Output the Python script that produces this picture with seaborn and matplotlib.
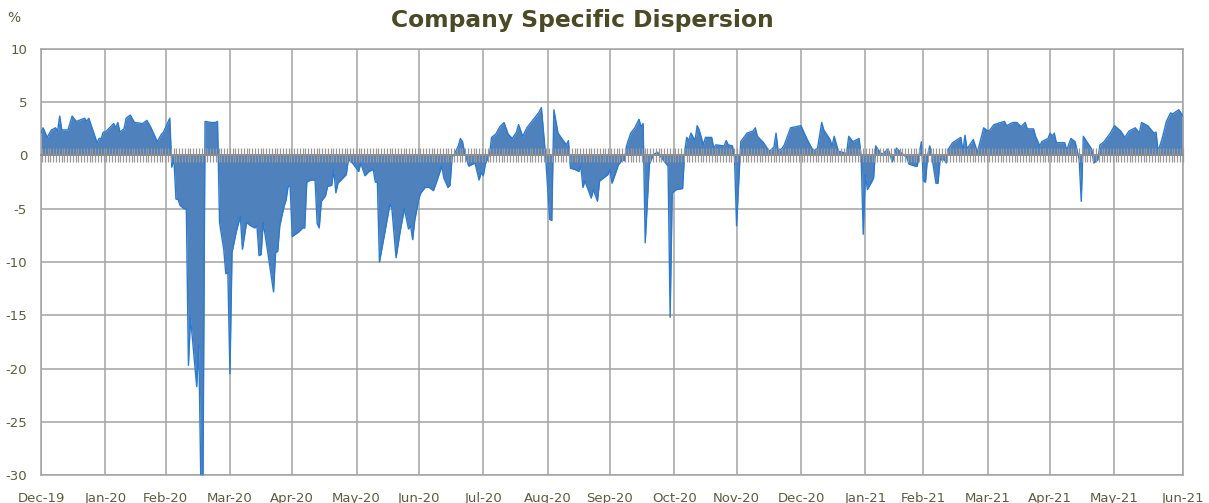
import matplotlib
matplotlib.use("Agg")
import matplotlib.pyplot as plt
import matplotlib.ticker as mticker
import seaborn as sns
import pandas as pd

# ---------------- data ----------------
dates = [
    "2019-12-31", "2020-01-01", "2020-01-03", "2020-01-05", "2020-01-07", "2020-01-08", "2020-01-09",
    "2020-01-10", "2020-01-13", "2020-01-15", "2020-01-17", "2020-01-21", "2020-01-22", "2020-01-23",
    "2020-01-27", "2020-01-28", "2020-01-29", "2020-01-30", "2020-01-31", "2020-02-04", "2020-02-05",
    "2020-02-06", "2020-02-07", "2020-02-09", "2020-02-10", "2020-02-12", "2020-02-14", "2020-02-18",
    "2020-02-20", "2020-02-22", "2020-02-25", "2020-02-27", "2020-02-28", "2020-03-02", "2020-03-03",
    "2020-03-04", "2020-03-05", "2020-03-06", "2020-03-07", "2020-03-09", "2020-03-10", "2020-03-11",
    "2020-03-12", "2020-03-15", "2020-03-16", "2020-03-17", "2020-03-18", "2020-03-19", "2020-03-22",
    "2020-03-24", "2020-03-25", "2020-03-26", "2020-03-28", "2020-03-29", "2020-03-30", "2020-03-31",
    "2020-04-01", "2020-04-03", "2020-04-05", "2020-04-06", "2020-04-08", "2020-04-10", "2020-04-12",
    "2020-04-13", "2020-04-14", "2020-04-15", "2020-04-16", "2020-04-18", "2020-04-21", "2020-04-22",
    "2020-04-23", "2020-04-24", "2020-04-26", "2020-04-27", "2020-04-28", "2020-04-29", "2020-04-30",
    "2020-05-03", "2020-05-05", "2020-05-06", "2020-05-07", "2020-05-09", "2020-05-11", "2020-05-12",
    "2020-05-13", "2020-05-14", "2020-05-16", "2020-05-17", "2020-05-19", "2020-05-20", "2020-05-21",
    "2020-05-22", "2020-05-24", "2020-05-26", "2020-05-27", "2020-05-29", "2020-06-01", "2020-06-02",
    "2020-06-04", "2020-06-06", "2020-06-08", "2020-06-09", "2020-06-10", "2020-06-11", "2020-06-14",
    "2020-06-16", "2020-06-17", "2020-06-19", "2020-06-21", "2020-06-23", "2020-06-25", "2020-06-26",
    "2020-06-27", "2020-06-28", "2020-06-30", "2020-07-01", "2020-07-03", "2020-07-05", "2020-07-07",
    "2020-07-09", "2020-07-11", "2020-07-12", "2020-07-14", "2020-07-15", "2020-07-16", "2020-07-17",
    "2020-07-19", "2020-07-20", "2020-07-21", "2020-07-22", "2020-07-24", "2020-07-27", "2020-07-29",
    "2020-07-30", "2020-07-31", "2020-08-01", "2020-08-03", "2020-08-04", "2020-08-06", "2020-08-08",
    "2020-08-10", "2020-08-12", "2020-08-14", "2020-08-16", "2020-08-17", "2020-08-19", "2020-08-21",
    "2020-08-27", "2020-08-28", "2020-08-30", "2020-09-01", "2020-09-02", "2020-09-03", "2020-09-05",
    "2020-09-09", "2020-09-10", "2020-09-11", "2020-09-13", "2020-09-15", "2020-09-16", "2020-09-17",
    "2020-09-18", "2020-09-21", "2020-09-22", "2020-09-24", "2020-09-25", "2020-09-29", "2020-09-30",
    "2020-10-01", "2020-10-03", "2020-10-04", "2020-10-06", "2020-10-07", "2020-10-08", "2020-10-10",
    "2020-10-12", "2020-10-14", "2020-10-15", "2020-10-16", "2020-10-17", "2020-10-19", "2020-10-21",
    "2020-10-23", "2020-10-24", "2020-10-26", "2020-10-28", "2020-10-29", "2020-10-30", "2020-11-01",
    "2020-11-04", "2020-11-05", "2020-11-06", "2020-11-07", "2020-11-08", "2020-11-10", "2020-11-11",
    "2020-11-12", "2020-11-14", "2020-11-15", "2020-11-18", "2020-11-19", "2020-11-20", "2020-11-24",
    "2020-11-25", "2020-11-26", "2020-11-28", "2020-11-29", "2020-11-30", "2020-12-02", "2020-12-05",
    "2020-12-08", "2020-12-09", "2020-12-10", "2020-12-13", "2020-12-15", "2020-12-16", "2020-12-18",
    "2020-12-19", "2020-12-20", "2020-12-22", "2020-12-23", "2020-12-26", "2020-12-31", "2021-01-03",
    "2021-01-06", "2021-01-08", "2021-01-10", "2021-01-11", "2021-01-14", "2021-01-15", "2021-01-16",
    "2021-01-18", "2021-01-22", "2021-01-23", "2021-01-25", "2021-01-28", "2021-01-29", "2021-01-30",
    "2021-01-31", "2021-02-01", "2021-02-03", "2021-02-04", "2021-02-05", "2021-02-06", "2021-02-08",
    "2021-02-11", "2021-02-13", "2021-02-15", "2021-02-17", "2021-02-20", "2021-02-21", "2021-02-24",
    "2021-02-25", "2021-02-27", "2021-02-28", "2021-03-01", "2021-03-02", "2021-03-03", "2021-03-04",
    "2021-03-06", "2021-03-07", "2021-03-08", "2021-03-10", "2021-03-11", "2021-03-12", "2021-03-14",
    "2021-03-18", "2021-03-19", "2021-03-20", "2021-03-21", "2021-03-24", "2021-03-26", "2021-03-29",
    "2021-03-31", "2021-04-01", "2021-04-03", "2021-04-08", "2021-04-09", "2021-04-12", "2021-04-14",
    "2021-04-16", "2021-04-18", "2021-04-19", "2021-04-22", "2021-04-23", "2021-04-25", "2021-04-26",
    "2021-04-29", "2021-04-30", "2021-05-01", "2021-05-02", "2021-05-03", "2021-05-07", "2021-05-08",
    "2021-05-10", "2021-05-12", "2021-05-13", "2021-05-14", "2021-05-15", "2021-05-16", "2021-05-20",
    "2021-05-21", "2021-05-23", "2021-05-24", "2021-05-26", "2021-05-29", "2021-05-31", "2021-06-03",
    "2021-06-05", "2021-06-07", "2021-06-10", "2021-06-12", "2021-06-13", "2021-06-16", "2021-06-19",
    "2021-06-20", "2021-06-21", "2021-06-23", "2021-06-25", "2021-06-27", "2021-06-28", "2021-07-01",
    "2021-07-03",
]

dispersion = [
    2.1, 2.6, 1.7, 2.4, 2.6, 2.3, 3.7,
    2.4, 2.4, 3.7, 3.2, 3.5, 3.2, 3.5,
    1.2, 1.6, 1.6, 2.2, 2.2, 3.0, 2.6,
    3.1, 2.2, 2.5, 3.5, 3.8, 3.1, 3.0,
    3.3, 2.6, 1.3, 2.0, 2.2, 3.5, -1.1,
    -0.3, -4.1, -4.1, -4.7, -5.0, -5.0, -19.7,
    -15.2, -21.7, -17.8, -31.0, -31.0, 3.2, 3.1,
    3.1, 3.2, -6.3, -8.8, -11.1, -11.0, -20.5,
    -9.1, -7.2, -5.7, -8.8, -6.3, -6.6, -6.8,
    -6.6, -9.4, -9.3, -6.3, -8.8, -12.8, -9.1,
    -9.0, -6.6, -4.8, -4.2, -2.9, -2.9, -7.6,
    -7.2, -6.8, -6.8, -2.5, -2.3, -2.3, -6.4,
    -6.8, -4.3, -3.8, -2.9, -2.8, -1.3, -3.5,
    -2.6, -2.2, -1.8, -0.4, -0.7, -1.5, -0.7,
    -1.9, -1.5, -1.3, -2.5, -2.5, -10.0, -6.8,
    -4.6, -5.0, -9.6, -7.1, -5.0, -6.9, -6.6,
    -7.9, -6.1, -4.0, -3.5, -3.0, -3.0, -3.3,
    -2.2, -1.0, -2.1, -3.0, -2.8, -0.1, 0.1,
    0.9, 1.6, 1.3, 0.3, -1.0, -0.7, -2.3,
    -1.6, -1.9, -0.8, 0.1, 1.7, 2.0, 2.7,
    3.1, 2.0, 1.6, 2.2, 2.9, 1.8, 2.6,
    4.1, 4.5, 0.0, -6.0, -6.1, 4.3, 2.1,
    1.0, 1.4, -1.2, -1.3, -1.5, -1.0, -3.0,
    -2.4, -4.0, -3.2, -4.3, -2.4, -1.8, -1.3,
    -2.6, -1.5, -0.9, -0.4, -0.5, 0.9, 2.1,
    2.6, 3.4, 2.7, 3.0, -8.2, -0.8, 0.1,
    0.3, 0.0, -0.5, -1.0, -15.2, -3.5, -3.2,
    -3.1, 0.4, 1.7, 1.4, 2.1, 1.4, 2.8,
    2.4, 1.0, 1.7, 1.7, 0.7, 1.0, 0.9,
    1.4, 1.0, 0.9, -0.2, -6.6, 1.3, 2.1,
    2.3, 2.6, 1.8, 1.2, 0.6, 0.4, 0.8,
    2.1, 0.4, 0.7, 1.0, 2.6, 2.8, 1.5,
    0.4, 0.7, 3.1, 2.4, 1.5, 0.9, 1.8,
    0.4, 0.2, 1.8, 1.3, 1.6, -0.1, -7.4,
    -1.8, -3.2, -2.5, -2.1, 0.9, 0.6, 0.1,
    0.6, -0.6, 0.7, 0.3, -0.2, -0.8, -1.0,
    -1.0, 1.3, -2.4, -2.5, 0.0, 0.9, 0.0,
    -2.6, -2.6, -0.4, -0.4, -0.7, 0.6, 1.2,
    1.7, 0.4, 1.9, 0.6, 1.5, 0.3, 2.6,
    2.3, 2.4, 2.9, 3.2, 2.8, 3.1, 3.1,
    2.7, 3.1, 2.5, 2.5, 1.8, 0.9, 1.3,
    1.6, 2.1, 1.8, 2.1, 1.2, 1.2, 0.5,
    1.6, 1.3, 0.5, -0.4, -4.3, 1.8, 0.6,
    -0.7, -0.4, 1.0, 1.3, 2.1, 2.8, 2.3,
    1.7, 2.3, 2.6, 2.1, 3.1, 2.8, 2.1,
    2.2, 0.4, 1.6, 3.2, 4.0, 3.9, 4.3,
    3.7,
]

tick_dates = ["2019-12-31", "2020-01-31", "2020-02-29", "2020-03-31", "2020-04-30", "2020-05-31",
              "2020-06-30", "2020-07-31", "2020-08-31", "2020-09-30", "2020-10-31", "2020-11-30",
              "2020-12-31", "2021-01-31", "2021-02-28", "2021-03-31", "2021-04-30", "2021-05-31",
              "2021-07-03"]
tick_labels = ["Dec-19", "Jan-20", "Feb-20", "Mar-20", "Apr-20", "May-20", "Jun-20", "Jul-20",
               "Aug-20", "Sep-20", "Oct-20", "Nov-20", "Dec-20", "Jan-21", "Feb-21", "Mar-21",
               "Apr-21", "May-21", "Jun-21"]
y_ticks = [-30, -25, -20, -15, -10, -5, 0, 5, 10]

title = "Company Specific Dispersion"

# ---------------- plot ----------------
sns.set_theme(style="white")
plt.rcParams["font.family"] = ["DejaVu Sans"]

df = pd.DataFrame({"date": pd.to_datetime(dates), "value": dispersion})
tdates = pd.to_datetime(tick_dates)

W, H = 1209, 503
fig = plt.figure(figsize=(W / 100, H / 100), dpi=100)
ax = fig.add_axes([41 / W, 1 - 475 / H, (1183 - 41) / W, (475 - 49) / H])

grid_c = "#a3a3a3"
text_c = "#5c5c3d"
fill_c = "#4f81bd"
line_c = "#2a7ad0"

ax.fill_between(df["date"], df["value"], 0, color=fill_c, linewidth=0, zorder=2)
sns.lineplot(data=df, x="date", y="value", ax=ax, color=line_c, linewidth=1.0, zorder=3)

ax.set_xlim(tdates[0], tdates[-1])
ax.set_ylim(-30, 10)
ax.set_yticks(y_ticks)
ax.set_yticklabels([str(v) for v in y_ticks])
ax.set_xticks(tdates)
ax.set_xticklabels(tick_labels)

ax.grid(True, axis="both", color=grid_c, linewidth=1.1, zorder=0)
ax.set_axisbelow(True)
for s in ax.spines.values():
    s.set_color(grid_c)
    s.set_linewidth(1.1)

ax.tick_params(axis="x", length=0, pad=12, labelsize=9.5, labelcolor=text_c)
ax.tick_params(axis="y", length=6, width=1.1, color=grid_c, pad=4, labelsize=9.5, labelcolor=text_c,
               direction="out")
ax.set_xlabel("")
ax.set_ylabel("")

# horizontal axis crossing at zero with dense tick marks (one per trading day)
sec = ax.secondary_xaxis(0.75)
for s in sec.spines.values():
    s.set_linewidth(1.3)
    s.set_color("#8c8c8c")
sec.xaxis.set_major_locator(mticker.MultipleLocator(1.35))
sec.tick_params(axis="x", which="both", direction="inout", length=10, width=0.9, color="#999999",
                labeltop=False, labelbottom=False)
sec.set_zorder(4)

fig.text(582 / W, 1 - 21 / H, title, ha="center", va="center", fontsize=16.8, fontweight="bold",
         color="#4a4a24")
fig.text(14 / W, 1 - 18 / H, "%", ha="center", va="center", fontsize=10, color=text_c)

fig.savefig("out.png", dpi=100)
